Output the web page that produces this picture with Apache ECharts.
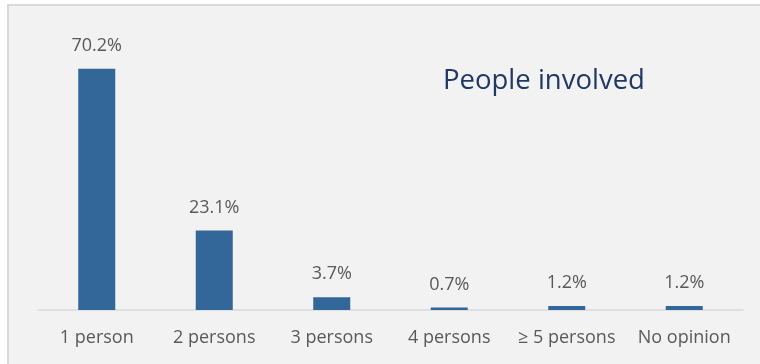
<!DOCTYPE html>
<html>
<head>
<meta charset="utf-8">
<script src="https://cdn.jsdelivr.net/npm/echarts@6/dist/echarts.min.js"></script>
<style>
  html, body { margin: 0; padding: 0; background: #ffffff; }
  #chart { width: 760px; height: 364px; }
</style>
</head>
<body>
<div id="chart"></div>
<script>
// Categories and shares (percent) of people involved
const categories = ['1 person', '2 persons', '3 persons', '4 persons', '\u2265 5 persons', 'No opinion'];
const shares = [70.2, 23.1, 3.7, 0.7, 1.2, 1.2];
const chartTitle = 'People involved';

const FONT = '"Open Sans", "Noto Sans", sans-serif';
const chart = echarts.init(document.getElementById('chart'), null, { renderer: 'canvas' });

chart.setOption({
  backgroundColor: '#ffffff',
  animation: false,
  graphic: [{
    type: 'rect',
    z: -10,
    shape: { x: 8, y: 5, width: 800, height: 400 },
    style: { fill: '#f2f2f2', stroke: '#d9d9d9', lineWidth: 2 }
  }],
  title: {
    text: chartTitle,
    left: 443,
    top: 67,
    padding: 0,
    textStyle: { fontFamily: FONT, fontSize: 27.5, fontWeight: 'normal', color: '#203864' }
  },
  grid: { left: 38, right: 17, top: 35, bottom: 54, containLabel: false },
  xAxis: {
    type: 'category',
    data: categories,
    axisLine: { lineStyle: { color: '#d9d9d9', width: 1.5 } },
    axisTick: { show: false },
    axisLabel: { interval: 0, hideOverlap: false, color: '#595959', fontFamily: FONT, fontSize: 18, margin: 19 }
  },
  yAxis: {
    type: 'value',
    min: 0,
    max: 80,
    show: false,
    splitLine: { show: false }
  },
  series: [{
    type: 'bar',
    data: shares,
    barWidth: '31.5%',
    itemStyle: { color: '#336699' },
    label: {
      show: true,
      position: 'top',
      distance: 14,
      color: '#595959',
      fontFamily: FONT,
      fontSize: 18,
      formatter: p => p.value.toFixed(1) + '%'
    }
  }]
});
</script>
</body>
</html>
